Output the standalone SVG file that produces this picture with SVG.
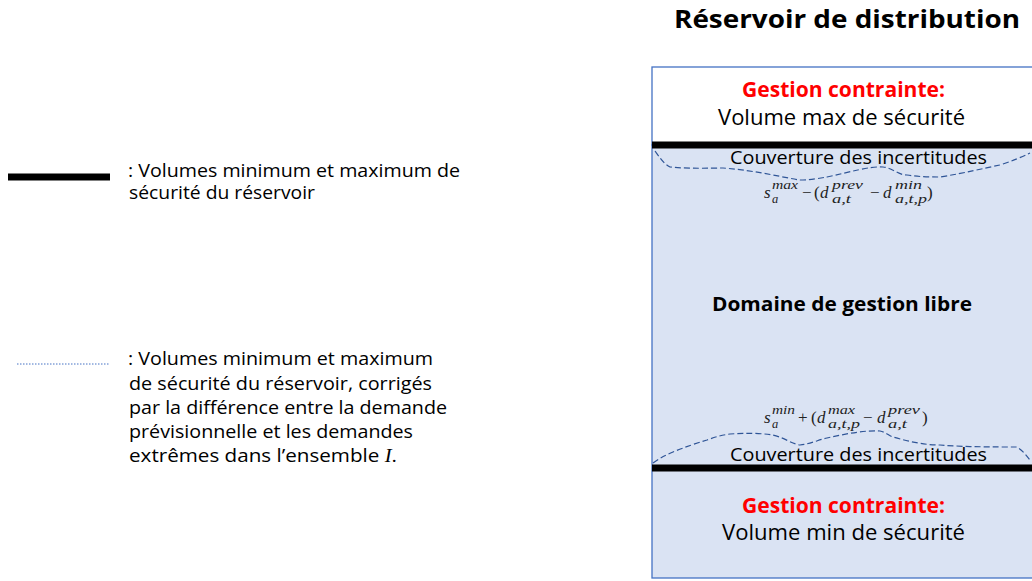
<svg xmlns="http://www.w3.org/2000/svg" width="1032" height="581" viewBox="0 0 1032 581">
<style>
.t{font-family:"Open Sans","Noto Sans",sans-serif;fill:#000}
.b{font-weight:bold}
.red{fill:#ff0000;font-weight:bold}
.m{font-family:"Liberation Serif",serif;font-style:italic;fill:#222;font-size:17px}
.u{font-style:normal}
.ms{font-size:12.5px}
.dash{fill:none;stroke:#2f5597;stroke-width:1.2;stroke-dasharray:6 3}
.lg{font-size:18px}
</style>
<rect width="1032" height="581" fill="#fff"/>
<g id="title"><text class="t b" x="674" y="28" font-size="25.5" textLength="346" lengthAdjust="spacingAndGlyphs">Réservoir de distribution</text></g>
<g id="reservoir">
<rect x="652" y="67" width="390" height="78" fill="#fff" stroke="#4472c4" stroke-width="1.3"/>
<rect x="652" y="145" width="390" height="433" fill="#dae3f3" stroke="#4472c4" stroke-width="1.3"/>
<line x1="652" y1="145" x2="1032" y2="145" stroke="#000" stroke-width="7"/>
<line x1="652" y1="468" x2="1032" y2="468" stroke="#000" stroke-width="7"/>
</g>
<g id="zone-max">
<text class="t red" x="742" y="97" font-size="20.5" textLength="203" lengthAdjust="spacingAndGlyphs">Gestion contrainte:</text>
<text class="t" x="718" y="125" font-size="21" textLength="247" lengthAdjust="spacingAndGlyphs">Volume max de sécurité</text>
</g>
<g id="cover-top">
<text class="t" x="730" y="164" font-size="19" textLength="257" lengthAdjust="spacingAndGlyphs">Couverture des incertitudes</text>
<path class="dash" d="M655,151 C660,158 664,164 670,167 C690,169 710,168 723,168 C760,171 785,178 800,180 C812,180 820,178 827,177 C850,172 870,166 883,167 C893,168 898,175 907,175 C920,177 930,177 940,177 C965,173 985,168 1000,165 C1012,161 1022,157 1030,153"/>
<text class="m" x="764" y="198">s</text>
<text class="m ms" x="772" y="189" textLength="26" lengthAdjust="spacingAndGlyphs">max</text>
<text class="m ms" x="772" y="203">a</text>
<text class="m u" x="802" y="198">−</text>
<text class="m u" x="814" y="198">(</text>
<text class="m" x="820" y="198">d</text>
<text class="m ms" x="832" y="189" textLength="31" lengthAdjust="spacingAndGlyphs">prev</text>
<text class="m ms" x="832" y="203" textLength="19" lengthAdjust="spacingAndGlyphs">a,t</text>
<text class="m u" x="870" y="198">−</text>
<text class="m" x="883" y="198">d</text>
<text class="m ms" x="895" y="189" textLength="27" lengthAdjust="spacingAndGlyphs">min</text>
<text class="m ms" x="895" y="203" textLength="32" lengthAdjust="spacingAndGlyphs">a,t,p</text>
<text class="m u" x="927" y="198">)</text>
</g>
<g id="free">
<text class="t b" x="712" y="311" font-size="20" textLength="260" lengthAdjust="spacingAndGlyphs">Domaine de gestion libre</text>
</g>
<g id="cover-bottom">
<text class="m" x="764" y="423">s</text>
<text class="m ms" x="772" y="414" textLength="23" lengthAdjust="spacingAndGlyphs">min</text>
<text class="m ms" x="772" y="428">a</text>
<text class="m u" x="798" y="423">+</text>
<text class="m u" x="811" y="423">(</text>
<text class="m" x="817" y="423">d</text>
<text class="m ms" x="828" y="414" textLength="27" lengthAdjust="spacingAndGlyphs">max</text>
<text class="m ms" x="828" y="428" textLength="32" lengthAdjust="spacingAndGlyphs">a,t,p</text>
<text class="m u" x="863" y="423">−</text>
<text class="m" x="877" y="423">d</text>
<text class="m ms" x="888" y="414" textLength="32" lengthAdjust="spacingAndGlyphs">prev</text>
<text class="m ms" x="888" y="428" textLength="19" lengthAdjust="spacingAndGlyphs">a,t</text>
<text class="m u" x="922" y="423">)</text>
<path class="dash" d="M653,463 C660,458 666,455 673,452 C685,447 697,443 707,440 C715,437 722,435 730,434 C745,433 760,433 773,435 C785,438 792,444 800,445 C810,444 818,440 827,438 C845,434 865,430 880,431 C886,432 889,436 893,437 C910,442 925,445 940,445 C965,447 995,447 1017,447 C1022,450 1026,455 1030,460"/>
<text class="t" x="730" y="461" font-size="19" textLength="257" lengthAdjust="spacingAndGlyphs">Couverture des incertitudes</text>
</g>
<g id="zone-min">
<text class="t red" x="742" y="513" font-size="20.5" textLength="203" lengthAdjust="spacingAndGlyphs">Gestion contrainte:</text>
<text class="t" x="722" y="540" font-size="21" textLength="243" lengthAdjust="spacingAndGlyphs">Volume min de sécurité</text>
</g>
<g id="legend-solid">
<line x1="8" y1="177" x2="110" y2="177" stroke="#000" stroke-width="7"/>
<text class="t lg" x="128" y="177" textLength="332" lengthAdjust="spacingAndGlyphs">: Volumes minimum et maximum de</text>
<text class="t lg" x="129" y="199" textLength="186" lengthAdjust="spacingAndGlyphs">sécurité du réservoir</text>
</g>
<g id="legend-dotted">
<line x1="17" y1="364" x2="110" y2="364" stroke="#4472c4" stroke-width="1" stroke-dasharray="1.5 1.5"/>
<text class="t lg" x="128" y="365" textLength="305" lengthAdjust="spacingAndGlyphs">: Volumes minimum et maximum</text>
<text class="t lg" x="129" y="389.5" textLength="303" lengthAdjust="spacingAndGlyphs">de sécurité du réservoir, corrigés</text>
<text class="t lg" x="129" y="414" textLength="318" lengthAdjust="spacingAndGlyphs">par la différence entre la demande</text>
<text class="t lg" x="129" y="438" textLength="284" lengthAdjust="spacingAndGlyphs">prévisionnelle et les demandes</text>
<text class="t lg" x="129" y="462" textLength="268" lengthAdjust="spacingAndGlyphs">extrêmes dans l’ensemble <tspan font-family="Liberation Serif" font-style="italic">I</tspan>.</text>
</g>
</svg>
